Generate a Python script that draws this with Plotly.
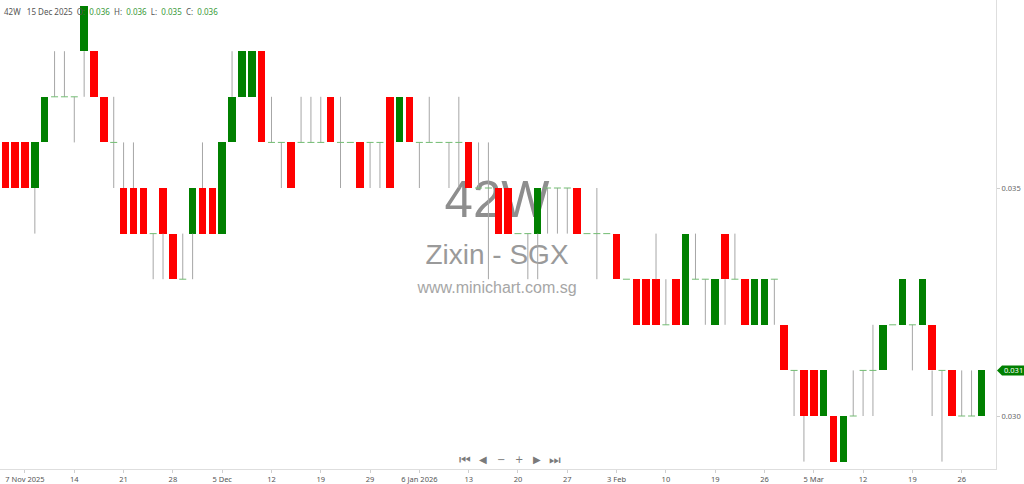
import pandas as pd
import plotly.graph_objects as go

# ---------------- data ----------------
holidays = ["2025-12-25", "2026-01-01", "2026-02-17", "2026-02-18"]
dates = [d.strftime("%Y-%m-%d") for d in pd.bdate_range("2025-11-05", "2026-03-30")
         if d.strftime("%Y-%m-%d") not in holidays]

open_ = [0.036, 0.036, 0.036, 0.035, 0.036, 0.037, 0.037, 0.037, 0.038, 0.038,
         0.037, 0.036, 0.035, 0.035, 0.035, 0.034, 0.035, 0.034, 0.033, 0.034,
         0.035, 0.035, 0.034, 0.036, 0.037, 0.037, 0.038, 0.036, 0.036, 0.036,
         0.036, 0.036, 0.036, 0.037, 0.036, 0.036, 0.036, 0.036, 0.036, 0.037,
         0.036, 0.037, 0.036, 0.036, 0.036, 0.036, 0.036, 0.036, 0.035, 0.035,
         0.035, 0.035, 0.034, 0.034, 0.034, 0.035, 0.035, 0.035, 0.035, 0.034,
         0.034, 0.034, 0.034, 0.033, 0.033, 0.033, 0.033, 0.032, 0.033, 0.032,
         0.033, 0.033, 0.032, 0.034, 0.033, 0.033, 0.032, 0.032, 0.033, 0.032,
         0.031, 0.031, 0.031, 0.030, 0.030, 0.029, 0.030, 0.031, 0.031, 0.031,
         0.032, 0.032, 0.032, 0.032, 0.032, 0.031, 0.031, 0.030, 0.030, 0.030]
high = [0.036, 0.036, 0.036, 0.036, 0.037, 0.038, 0.038, 0.037, 0.039, 0.038,
        0.037, 0.037, 0.036, 0.036, 0.035, 0.034, 0.035, 0.034, 0.034, 0.035,
        0.036, 0.035, 0.036, 0.038, 0.038, 0.038, 0.038, 0.037, 0.036, 0.036,
        0.037, 0.037, 0.037, 0.037, 0.037, 0.036, 0.036, 0.036, 0.036, 0.037,
        0.037, 0.037, 0.036, 0.037, 0.036, 0.036, 0.037, 0.036, 0.036, 0.036,
        0.035, 0.035, 0.034, 0.034, 0.035, 0.035, 0.035, 0.035, 0.035, 0.034,
        0.035, 0.034, 0.034, 0.033, 0.033, 0.033, 0.034, 0.033, 0.033, 0.034,
        0.034, 0.033, 0.033, 0.034, 0.034, 0.033, 0.033, 0.033, 0.033, 0.032,
        0.031, 0.031, 0.031, 0.031, 0.030, 0.030, 0.031, 0.031, 0.032, 0.032,
        0.032, 0.033, 0.032, 0.033, 0.032, 0.031, 0.031, 0.031, 0.031, 0.031]
low = [0.035, 0.035, 0.035, 0.034, 0.036, 0.037, 0.037, 0.036, 0.037, 0.037,
       0.036, 0.035, 0.034, 0.034, 0.034, 0.033, 0.033, 0.033, 0.033, 0.033,
       0.034, 0.034, 0.034, 0.036, 0.037, 0.037, 0.036, 0.036, 0.035, 0.035,
       0.036, 0.036, 0.036, 0.036, 0.035, 0.036, 0.035, 0.035, 0.035, 0.035,
       0.036, 0.036, 0.035, 0.036, 0.036, 0.035, 0.035, 0.035, 0.035, 0.033,
       0.034, 0.034, 0.034, 0.033, 0.033, 0.034, 0.034, 0.034, 0.034, 0.034,
       0.033, 0.034, 0.033, 0.033, 0.032, 0.032, 0.032, 0.032, 0.032, 0.032,
       0.033, 0.032, 0.032, 0.032, 0.033, 0.032, 0.032, 0.032, 0.032, 0.031,
       0.030, 0.029, 0.030, 0.030, 0.029, 0.029, 0.030, 0.030, 0.030, 0.031,
       0.032, 0.032, 0.031, 0.032, 0.030, 0.029, 0.030, 0.030, 0.030, 0.030]
close = [0.035, 0.035, 0.035, 0.036, 0.037, 0.037, 0.037, 0.037, 0.039, 0.037,
         0.036, 0.036, 0.034, 0.034, 0.034, 0.034, 0.034, 0.033, 0.033, 0.035,
         0.034, 0.034, 0.036, 0.037, 0.038, 0.038, 0.036, 0.036, 0.036, 0.035,
         0.036, 0.036, 0.036, 0.036, 0.036, 0.036, 0.035, 0.036, 0.036, 0.035,
         0.037, 0.036, 0.036, 0.036, 0.036, 0.036, 0.036, 0.035, 0.035, 0.035,
         0.034, 0.034, 0.034, 0.034, 0.035, 0.035, 0.035, 0.035, 0.034, 0.034,
         0.034, 0.034, 0.033, 0.033, 0.032, 0.032, 0.032, 0.032, 0.032, 0.034,
         0.033, 0.033, 0.033, 0.033, 0.033, 0.032, 0.033, 0.033, 0.033, 0.031,
         0.031, 0.030, 0.030, 0.031, 0.029, 0.030, 0.030, 0.031, 0.031, 0.032,
         0.032, 0.033, 0.032, 0.033, 0.031, 0.031, 0.030, 0.030, 0.030, 0.031]

tick_dates = ["2025-11-07", "2025-11-14", "2025-11-21", "2025-11-28", "2025-12-05",
              "2025-12-12", "2025-12-19", "2025-12-29", "2026-01-06", "2026-01-13",
              "2026-01-20", "2026-01-27", "2026-02-03", "2026-02-10", "2026-02-19",
              "2026-02-26", "2026-03-05", "2026-03-12", "2026-03-19", "2026-03-26"]
tick_labels = ["7 Nov 2025", "14", "21", "28", "5 Dec", "12", "19", "29", "6 Jan 2026", "13",
               "20", "27", "3 Feb", "10", "19", "26", "5 Mar", "12", "19", "26"]
y_ticks = [0.030, 0.035]

symbol = "42W"
name = "Zixin - SGX"
site = "www.minichart.com.sg"
header_date = "2025-12-15"

# ---------------- styling ----------------
RED = "#ff0000"
GREEN = "#008000"
WICK = "#a6a6a6"
DOJI = "#72bc72"
FONT = "Noto Sans"

fig = go.Figure()

# watermark (on a hidden base subplot, drawn beneath the candles)
fig.add_trace(go.Scatter(
    x=[0.499, 0.499, 0.499], y=[0.565, 0.452, 0.384],
    mode="text", text=[symbol, name, site],
    textfont=dict(family="Liberation Sans", size=[51, 28, 16],
                  color=["#8e8e8e", "#9a9a9a", "#a6a6a6"]),
    hoverinfo="skip", showlegend=False, xaxis="x", yaxis="y"))

# wicks (upper and lower shadows, outside the body)
wx, wy = [], []
for d, o, h, l, c in zip(dates, open_, high, low, close):
    top, bot = max(o, c), min(o, c)
    if h > top:
        wx += [d, d, None]
        wy += [top, h, None]
    if l < bot:
        wx += [d, d, None]
        wy += [l, bot, None]
fig.add_trace(go.Scatter(x=wx, y=wy, mode="lines", line=dict(color=WICK, width=1),
                         hoverinfo="skip", showlegend=False, xaxis="x2", yaxis="y2"))

# bodies
bx, bbase, bh, bc = [], [], [], []
for d, o, c in zip(dates, open_, close):
    if o != c:
        bx.append(d)
        bbase.append(min(o, c))
        bh.append(abs(c - o))
        bc.append(GREEN if c > o else RED)
fig.add_trace(go.Bar(x=bx, y=bh, base=bbase, width=0.76,
                     marker=dict(color=bc, line=dict(width=0)),
                     hoverinfo="skip", showlegend=False, xaxis="x2", yaxis="y2"))

# doji ticks (open == close)
dx = [d for d, o, c in zip(dates, open_, close) if o == c]
dy = [o for o, c in zip(open_, close) if o == c]
fig.add_trace(go.Scatter(x=dx, y=dy, mode="markers",
                         marker=dict(symbol="line-ew", size=5,
                                     line=dict(color=DOJI, width=1)),
                         hoverinfo="skip", showlegend=False, xaxis="x2", yaxis="y2"))

y_lo, y_hi = 0.028838, 0.039123

fig.update_layout(
    width=1024, height=484,
    margin=dict(l=0, r=28, t=0, b=15),
    paper_bgcolor="white", plot_bgcolor="white",
    font=dict(family=FONT, color="#555555"),
    bargap=0,
    xaxis=dict(domain=[0, 1], range=[0, 1], visible=False, fixedrange=True),
    yaxis=dict(domain=[0, 1], range=[0, 1], visible=False, fixedrange=True),
    xaxis2=dict(overlaying="x", anchor="y2", type="category",
                categoryorder="array", categoryarray=dates,
                range=[-0.535, 100.48],
                tickmode="array", tickvals=tick_dates, ticktext=tick_labels,
                showline=True, linecolor="#dedede", linewidth=1,
                ticks="outside", ticklen=3, tickcolor="#cfcfcf",
                tickfont=dict(size=7.5, color="#555555", family=FONT),
                showgrid=False, zeroline=False, fixedrange=True),
    yaxis2=dict(overlaying="y", anchor="x2", side="right",
                range=[y_lo, y_hi],
                tickmode="array", tickvals=y_ticks,
                ticktext=[f"{v:.3f}" for v in y_ticks],
                showline=True, linecolor="#dedede", linewidth=1,
                ticks="outside", ticklen=3, tickcolor="#cfcfcf",
                tickfont=dict(size=7.5, color="#666666", family=FONT),
                showgrid=False, zeroline=False, fixedrange=True),
)

# header (OHLC of hovered day)
k = dates.index(header_date)
hd = pd.Timestamp(header_date)
val = "<span style='color:#3a9a3a'>{:.3f}</span>"
header = (f"{symbol}&nbsp;&nbsp;&nbsp;{hd.day} {hd.strftime('%b %Y')}&nbsp;&nbsp;O:&nbsp;&nbsp;"
          + val.format(open_[k]) + "&nbsp;&nbsp;H:&nbsp;&nbsp;" + val.format(high[k])
          + "&nbsp;&nbsp;L:&nbsp;&nbsp;" + val.format(low[k])
          + "&nbsp;&nbsp;C:&nbsp;&nbsp;" + val.format(close[k]))
fig.add_annotation(xref="paper", yref="paper", x=0, y=1, xanchor="left", yanchor="top",
                   xshift=2, yshift=-4, showarrow=False, text=header,
                   font=dict(size=8, color="#555555", family=FONT))

# last price tag
last = close[-1]
fig.add_shape(type="path", xref="paper", yref="y2", xsizemode="pixel", ysizemode="pixel",
              xanchor=1, yanchor=last, path="M 1,0 L 6,5 L 28,5 L 28,-5 L 6,-5 Z",
              fillcolor=GREEN, line=dict(width=0), layer="above")
fig.add_annotation(xref="paper", yref="y2", x=1, y=last, xanchor="left", yanchor="middle",
                   xshift=6, showarrow=False, text=f"{last:.3f}",
                   font=dict(size=7.5, color="white", family=FONT))

# navigation buttons
nav = ["⏮", "◀", "−", "+", "▶", "⏭"]
nav_size = [13, 10, 10, 10, 10, 13]
for j, s in enumerate(nav):
    fig.add_annotation(xref="paper", yref="paper", x=(465 + 18 * j) / 996, y=1 - 459 / 469,
                       showarrow=False, text=s, xanchor="center", yanchor="middle",
                       font=dict(size=nav_size[j], color="#7a7a7a", family="DejaVu Sans"))

fig.write_html("out.html", config={"displayModeBar": False},
               post_script="document.body.style.margin='0';")
